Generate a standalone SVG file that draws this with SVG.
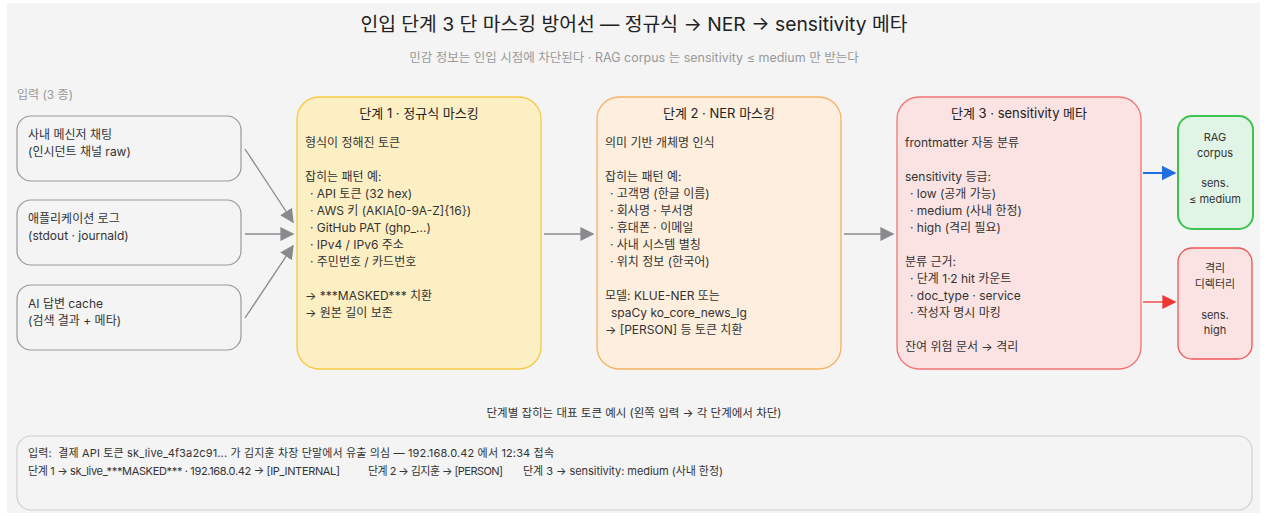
<svg xmlns="http://www.w3.org/2000/svg" width="1264" height="516" viewBox="0 0 1264 516">
  <defs>
    <marker id="arrGrayL" viewBox="0 0 10 10" refX="9" refY="5" markerWidth="14" markerHeight="14" markerUnits="userSpaceOnUse" orient="auto">
      <path d="M0,0 L10,5 L0,10 z" fill="#8a8a8e"/>
    </marker>
    <marker id="arrBlue" viewBox="0 0 10 10" refX="9" refY="5" markerWidth="15" markerHeight="15" markerUnits="userSpaceOnUse" orient="auto">
      <path d="M0,0 L10,5 L0,10 z" fill="#1f6fe0"/>
    </marker>
    <marker id="arrRed" viewBox="0 0 10 10" refX="9" refY="5" markerWidth="14" markerHeight="14" markerUnits="userSpaceOnUse" orient="auto">
      <path d="M0,0 L10,5 L0,10 z" fill="#f03535"/>
    </marker>
  </defs>
  <style>
    text { font-family: Inter, "Noto Sans", "Noto Sans CJK KR", sans-serif; fill: #333; white-space: pre; }
    .title { font-size: 19.3px; fill: #222; text-anchor: middle; }
    .sub { font-size: 12.5px; fill: #999; text-anchor: middle; }
    .lbl { font-size: 12px; fill: #999; }
    .inbox { fill: #f4f4f4; stroke: #999; stroke-width: 1.2; }
    .intext { font-size: 12px; fill: #333; }
    .stitle { font-size: 13px; fill: #222; text-anchor: middle; }
    .body { font-size: 12px; fill: #333; }
    .side { font-size: 11px; fill: #333; text-anchor: middle; }
    .cap { font-size: 11.5px; fill: #333; text-anchor: middle; }
    .ex { font-size: 11px; fill: #333; }
    .edge { fill: none; stroke: #8a8a8e; stroke-width: 1.3; }
  </style>

  <rect x="7" y="3" width="1253" height="510" fill="#f4f4f4"/>

  <text class="title" x="634" y="31">인입 단계 3 단 마스킹 방어선 — 정규식 → NER → sensitivity 메타</text>
  <text class="sub" x="634" y="62">민감 정보는 인입 시점에 차단된다 · RAG corpus 는 sensitivity ≤ medium 만 받는다</text>
  <text class="lbl" x="17" y="99">입력 (3 종)</text>

  <!-- input sources -->
  <g id="in-chat">
    <rect class="inbox" x="17" y="116" width="224" height="65" rx="14"/>
    <text class="intext" x="28" y="139">사내 메신저 채팅</text>
    <text class="intext" x="28" y="156">(인시던트 채널 raw)</text>
  </g>
  <g id="in-log">
    <rect class="inbox" x="17" y="200" width="224" height="65" rx="14"/>
    <text class="intext" x="28" y="223">애플리케이션 로그</text>
    <text class="intext" x="28" y="240">(stdout · journald)</text>
  </g>
  <g id="in-cache">
    <rect class="inbox" x="17" y="285" width="224" height="65" rx="14"/>
    <text class="intext" x="28" y="308">AI 답변 cache</text>
    <text class="intext" x="28" y="325">(검색 결과 + 메타)</text>
  </g>

  <!-- stage 1 -->
  <g id="stage1">
    <rect x="297" y="97" width="244" height="272" rx="22" fill="#fdefc4" stroke="#f5c944" stroke-width="1.3"/>
    <text class="stitle" x="419" y="118">단계 1 · 정규식 마스킹</text>
    <text class="body" x="305" y="147">형식이 정해진 토큰</text>
    <text class="body" x="305" y="181">잡히는 패턴 예:</text>
    <text class="body" x="310" y="198">· API 토큰 (32 hex)</text>
    <text class="body" x="310" y="215">· AWS 키 (AKIA[0-9A-Z]{16})</text>
    <text class="body" x="310" y="232">· GitHub PAT (ghp_...)</text>
    <text class="body" x="310" y="249">· IPv4 / IPv6 주소</text>
    <text class="body" x="310" y="266">· 주민번호 / 카드번호</text>
    <text class="body" x="305" y="300">→ ***MASKED*** 치환</text>
    <text class="body" x="305" y="317">→ 원본 길이 보존</text>
  </g>

  <!-- stage 2 -->
  <g id="stage2">
    <rect x="597" y="97" width="244" height="272" rx="22" fill="#fdeedd" stroke="#f6b266" stroke-width="1.3"/>
    <text class="stitle" x="719" y="118">단계 2 · NER 마스킹</text>
    <text class="body" x="605" y="147">의미 기반 개체명 인식</text>
    <text class="body" x="605" y="181">잡히는 패턴 예:</text>
    <text class="body" x="610" y="198">· 고객명 (한글 이름)</text>
    <text class="body" x="610" y="215">· 회사명 · 부서명</text>
    <text class="body" x="610" y="232">· 휴대폰 · 이메일</text>
    <text class="body" x="610" y="249">· 사내 시스템 별칭</text>
    <text class="body" x="610" y="266">· 위치 정보 (한국어)</text>
    <text class="body" x="605" y="300">모델: KLUE-NER 또는</text>
    <text class="body" x="611" y="317">spaCy ko_core_news_lg</text>
    <text class="body" x="605" y="334">→ [PERSON] 등 토큰 치환</text>
  </g>

  <!-- stage 3 -->
  <g id="stage3">
    <rect x="897" y="97" width="244" height="272" rx="22" fill="#fbe3e3" stroke="#f27474" stroke-width="1.3"/>
    <text class="stitle" x="1019" y="118">단계 3 · sensitivity 메타</text>
    <text class="body" x="905" y="147">frontmatter 자동 분류</text>
    <text class="body" x="905" y="181">sensitivity 등급:</text>
    <text class="body" x="910" y="198">· low (공개 가능)</text>
    <text class="body" x="910" y="215">· medium (사내 한정)</text>
    <text class="body" x="910" y="232">· high (격리 필요)</text>
    <text class="body" x="905" y="266">분류 근거:</text>
    <text class="body" x="910" y="283">· 단계 1·2 hit 카운트</text>
    <text class="body" x="910" y="300">· doc_type · service</text>
    <text class="body" x="910" y="317">· 작성자 명시 마킹</text>
    <text class="body" x="905" y="351">잔여 위험 문서 → 격리</text>
  </g>

  <!-- outputs -->
  <g id="out-rag">
    <rect x="1178" y="116" width="75" height="113" rx="14" fill="#e0f5e6" stroke="#3cc350" stroke-width="2"/>
    <text class="side" x="1215" y="141">RAG</text>
    <text class="side" x="1215" y="157">corpus</text>
    <text class="side" x="1215" y="187">sens.</text>
    <text class="side" x="1215" y="203">≤ medium</text>
  </g>
  <g id="out-quarantine">
    <rect x="1178" y="248" width="74" height="111" rx="14" fill="#fbe3e3" stroke="#f25555" stroke-width="1.3"/>
    <text class="side" x="1215" y="272">격리</text>
    <text class="side" x="1215" y="288">디렉터리</text>
    <text class="side" x="1215" y="319">sens.</text>
    <text class="side" x="1215" y="334">high</text>
  </g>

  <!-- connectors -->
  <g id="edges">
    <path class="edge" d="M245,149 L293,222" marker-end="url(#arrGrayL)"/>
    <path class="edge" d="M245,234 L293,234" marker-end="url(#arrGrayL)"/>
    <path class="edge" d="M245,318 L293,246" marker-end="url(#arrGrayL)"/>
    <path class="edge" d="M544,234 L593,234" marker-end="url(#arrGrayL)"/>
    <path class="edge" d="M844,234 L893,234" marker-end="url(#arrGrayL)"/>
    <path d="M1143,173 L1175,173" stroke="#1f6fe0" stroke-width="2" fill="none" marker-end="url(#arrBlue)"/>
    <path d="M1143,302 L1175,302" stroke="#f03535" stroke-width="1.3" fill="none" marker-end="url(#arrRed)"/>
  </g>

  <!-- example strip -->
  <text class="cap" x="634" y="417">단계별 잡히는 대표 토큰 예시 (왼쪽 입력 → 각 단계에서 차단)</text>
  <g id="example">
    <rect x="17" y="436" width="1235" height="74" rx="14" fill="#f4f4f4" stroke="#d0d0d0" stroke-width="1.2"/>
    <text class="ex" x="28" y="457" textLength="526" lengthAdjust="spacing">입력:  결제 API 토큰 sk_live_4f3a2c91... 가 김지훈 차장 단말에서 유출 의심 — 192.168.0.42 에서 12:34 접속</text>
    <text class="ex" x="28" y="475" textLength="312" lengthAdjust="spacing">단계 1 → sk_live_***MASKED*** · 192.168.0.42 → [IP_INTERNAL]</text>
    <text class="ex" x="368" y="475" textLength="135" lengthAdjust="spacing">단계 2 → 김지훈 → [PERSON]</text>
    <text class="ex" x="523" y="475" textLength="200" lengthAdjust="spacing">단계 3 → sensitivity: medium (사내 한정)</text>
  </g>
</svg>
